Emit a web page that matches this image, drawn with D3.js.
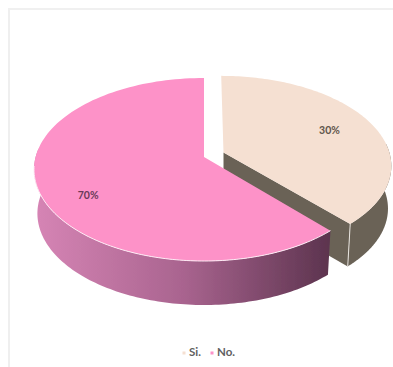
<!DOCTYPE html>
<html><head><meta charset="utf-8">
<script src="https://cdn.jsdelivr.net/npm/d3@7"></script>
<style>html,body{margin:0;padding:0;background:#fff}svg{display:block}</style>
</head><body><svg id="c" width="393" height="367"></svg>
<script>
// Printed labels and the slice shares as actually drawn (the picture's wedge measures about 38%, not 30%)
const categories = ["Si.", "No."];
const labelValues = [30, 70];
const sliceShares = [38.2, 61.8];
const topColors = ["#F5E0D2", "#FD92C8"];
const wallColor = "#6A6257";
const wallGradientStops = ["#D584B4", "#A9648F", "#5D344F"];

const svg = d3.select("#c");
const W = 393, H = 367;
const cx = 204, cy = 157, A = 168.4, S = 89.8, k = 0.1366, bottomScale = 0.98;
// per-slice placement: [shift x, shift y, x scale, x skew with height, y scale, wall depth]
const explode = [[19.5, -4.5, 0.985, 0.03, 0.97, 42.5], [0, 0, 1, 0, 1, 44]];

const arcs = d3.pie().sort(null)(sliceShares);

function proj(a, r, level, off) {
  const u = r * Math.sin(a), v = -r * Math.cos(a), w = 1 - k * v;
  const s = level ? bottomScale : 1;
  const dy = off[4] * S * v / w;
  return [cx + off[0] + off[2] * s * A * u / w + off[3] * dy, cy + off[1] + dy + (level ? off[5] : 0)];
}
const sample = (a0, a1) => d3.range(0, 121).map(i => a0 + (a1 - a0) * i / 120);
const line = d3.line();
const close = pts => line(pts) + "Z";

const defs = svg.append("defs");
const grad = defs.append("linearGradient").attr("id", "wallGrad")
  .attr("gradientUnits", "userSpaceOnUse").attr("x1", 38).attr("x2", 328).attr("y1", 0).attr("y2", 0);
wallGradientStops.forEach((c, i) => grad.append("stop").attr("offset", i / (wallGradientStops.length - 1)).attr("stop-color", c));
defs.append("filter").attr("id", "soft").append("feGaussianBlur").attr("stdDeviation", 0.55);

// page frame
svg.append("rect").attr("width", W).attr("height", H).attr("fill", "#fff");
svg.append("rect").attr("x", 8).attr("y", 8).attr("width", 2).attr("height", H - 8).attr("fill", "#EFEFEF");
svg.append("rect").attr("x", 8).attr("y", 8).attr("width", W - 8).attr("height", 2).attr("fill", "#F0F0F0");

const g = svg.append("g").attr("filter", "url(#soft)");

function slice(d, i) {
  const off = explode[i];
  const faces = sample(d.startAngle, d.endAngle);
  const topPts = faces.map(a => proj(a, 1, 0, off));
  const apex = proj(0, 0, 0, off);
  if (i === 0) {
    // outer and inner walls of the pulled-out wedge
    const wa = sample(Math.PI / 2 - 0.1, d.endAngle);
    g.append("path").attr("fill", wallColor)
      .attr("d", close(wa.map(a => proj(a, 1, 0, off)).concat(wa.slice().reverse().map(a => proj(a, 1, 1, off)))));
    const e = d.endAngle;
    g.append("path").attr("fill", wallColor)
      .attr("d", close([apex, proj(e, 1, 0, off), proj(e, 1, 1, off), proj(0, 0, 1, off)]));
    g.append("path").attr("fill", "none").attr("stroke", "#E8E4DE").attr("stroke-width", 1)
      .attr("d", line([proj(e, 1, 0, off), proj(e, 1, 1, off)]));
  } else {
    const wa = sample(d.startAngle, 1.5 * Math.PI + 0.1);
    g.append("path").attr("fill", "url(#wallGrad)")
      .attr("d", close(wa.map(a => proj(a, 1, 0, off)).concat(wa.slice().reverse().map(a => proj(a, 1, 1, off)))));
  }
  g.append("path").attr("fill", topColors[i]).attr("d", close([apex, ...topPts]));
  if (i === 1) {
    const wa = sample(d.startAngle, 1.5 * Math.PI - 0.1);
    g.append("path").attr("fill", "none").attr("stroke", "#FDEAF4").attr("stroke-width", 1)
      .attr("d", line(wa.map(a => proj(a, 1, 0, off))));
  }
}
arcs.forEach(slice);

// labels
const labelNudge = [[2, 0], [-2, 16]];
arcs.forEach((d, i) => {
  const p = proj((d.startAngle + d.endAngle) / 2, 0.7, 0, explode[i]);
  svg.append("text").attr("x", p[0] + labelNudge[i][0]).attr("y", p[1] + labelNudge[i][1])
    .attr("text-anchor", "middle").attr("dominant-baseline", "middle")
    .attr("font-family", "Lato").attr("font-weight", 700).attr("font-size", 10.5)
    .attr("fill", i ? "#6A3A58" : "#5F564C")
    .text(labelValues[i] + "%");
});

// legend
const legendX = d3.scalePoint().domain(categories).range([184, 212]);
categories.forEach((c, i) => {
  const x = legendX(c);
  svg.append("rect").attr("x", x - 1.5).attr("y", 351.5).attr("width", 3).attr("height", 3).attr("fill", topColors[i]);
  svg.append("text").attr("x", x + 5).attr("y", 353.5).attr("dominant-baseline", "middle")
    .attr("font-family", "Lato").attr("font-weight", 700).attr("font-size", 11.5).attr("fill", "#606060").text(c);
});
</script></body></html>
